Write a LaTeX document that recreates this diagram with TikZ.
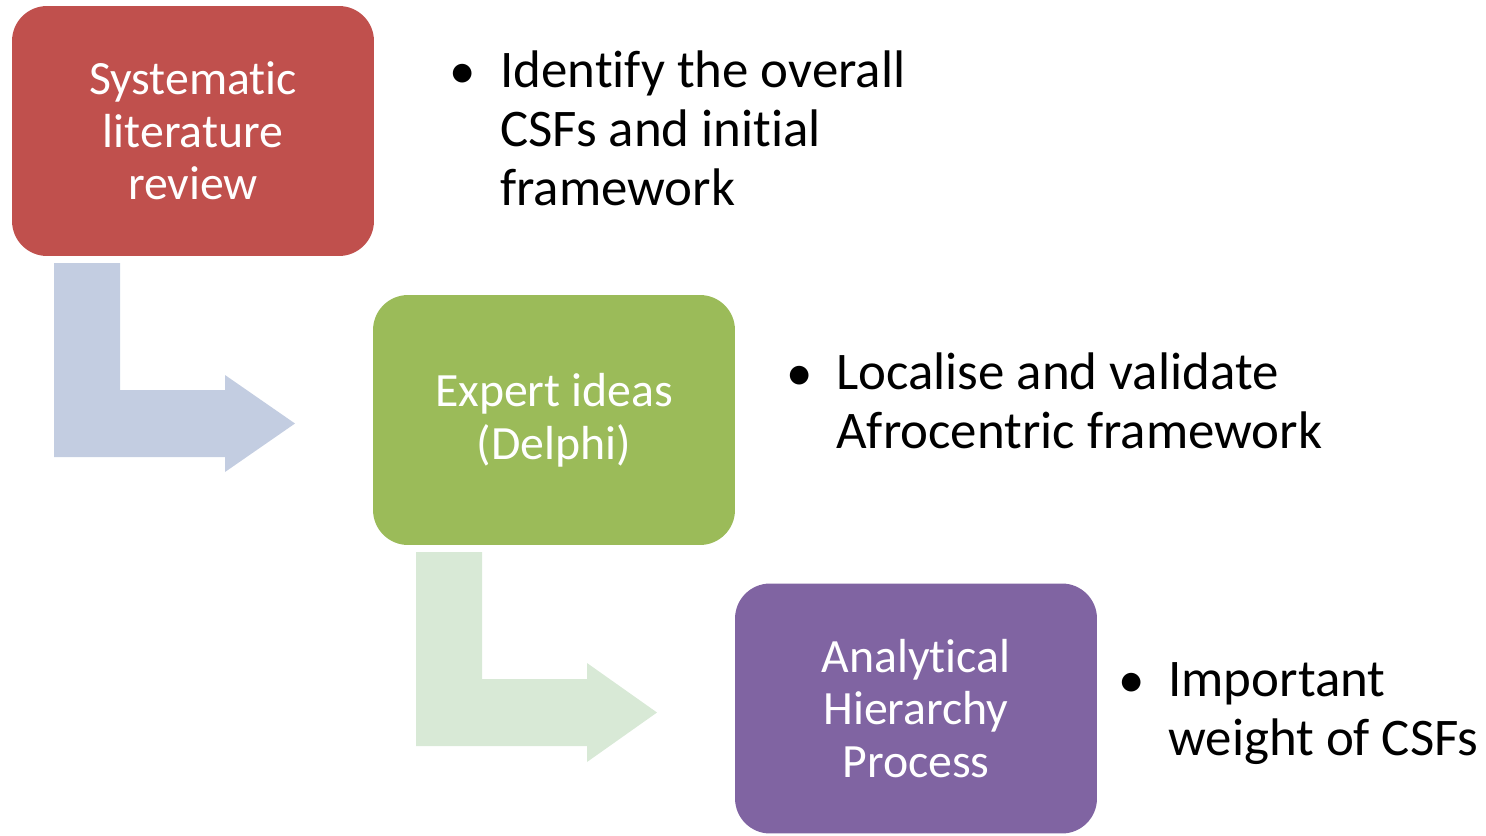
\documentclass[tikz,border=0pt]{standalone}
\usepackage{fontspec}
\setmainfont{Carlito}[Ligatures=NoCommon]
\usetikzlibrary{positioning}

\definecolor{slrred}{HTML}{C0504D}
\definecolor{delphigreen}{HTML}{9BBB59}
\definecolor{ahppurple}{HTML}{8064A2}
\definecolor{arrowblue}{HTML}{C3CDE1}
\definecolor{arrowgreen}{HTML}{D8E9D6}

\tikzset{
  stagebox/.style={rounded corners=0.7cm, minimum width=7.24cm, minimum height=5cm,
    align=center, text=white, inner sep=0pt,
    font=\fontsize{27.2}{29.9}\selectfont},
  bullettext/.style={anchor=base west, align=left, inner sep=0pt,
    font=\fontsize{30.1}{33.3}\selectfont},
  bulletdot/.style={anchor=base, inner sep=0pt, font=\fontsize{30.1}{33.3}\selectfont}
}

\begin{document}
\begin{tikzpicture}[x=0.02cm,y=-0.02cm]
  \useasboundingbox (0,0) rectangle (1486,835);

%%%%%%%%%%%%%%%%%%%%%%%%%%%%%%%%%%%%%%%%%%
  % Bent arrows (behind the boxes)
  \fill[arrowblue] (54,263) -- (120,263) -- (120,390) -- (225,390) -- (225,375)
    -- (295,423.5) -- (225,472) -- (225,457) -- (54,457) -- cycle;
  \fill[arrowgreen] (416,552) -- (482,552) -- (482,679) -- (587,679) -- (587,663)
    -- (657,712.5) -- (587,762) -- (587,746) -- (416,746) -- cycle;

%%%%%%%%%%%%%%%%%%%%%%%%%%%%%%%%%%%%%%%%%%
  % Stage boxes
  \node[stagebox, fill=slrred] (slr) at (193,131) {Systematic\\literature\\review};
  \node[stagebox, fill=delphigreen] (delphi) at (554,420) {Expert ideas\\(Delphi)};
  \node[stagebox, fill=ahppurple] (ahp) at (916,708.5) {Analytical\\Hierarchy\\Process};

%%%%%%%%%%%%%%%%%%%%%%%%%%%%%%%%%%%%%%%%%%
  % Bullet points (text anchored on its last baseline)
  \node[bulletdot] (dot1) at (463,88) {\textbullet};
  \node[bullettext] (txt1) at (500,205) {Identify the overall\\CSFs and initial\\framework};

  \node[bulletdot] (dot2) at (800,390) {\textbullet};
  \node[bullettext] (txt2) at (836,448) {Localise and validate\\Afrocentric framework};

  \node[bulletdot] (dot3) at (1132,697) {\textbullet};
  \node[bullettext] (txt3) at (1168,755) {Important\\weight of CSFs};

\end{tikzpicture}
\end{document}
